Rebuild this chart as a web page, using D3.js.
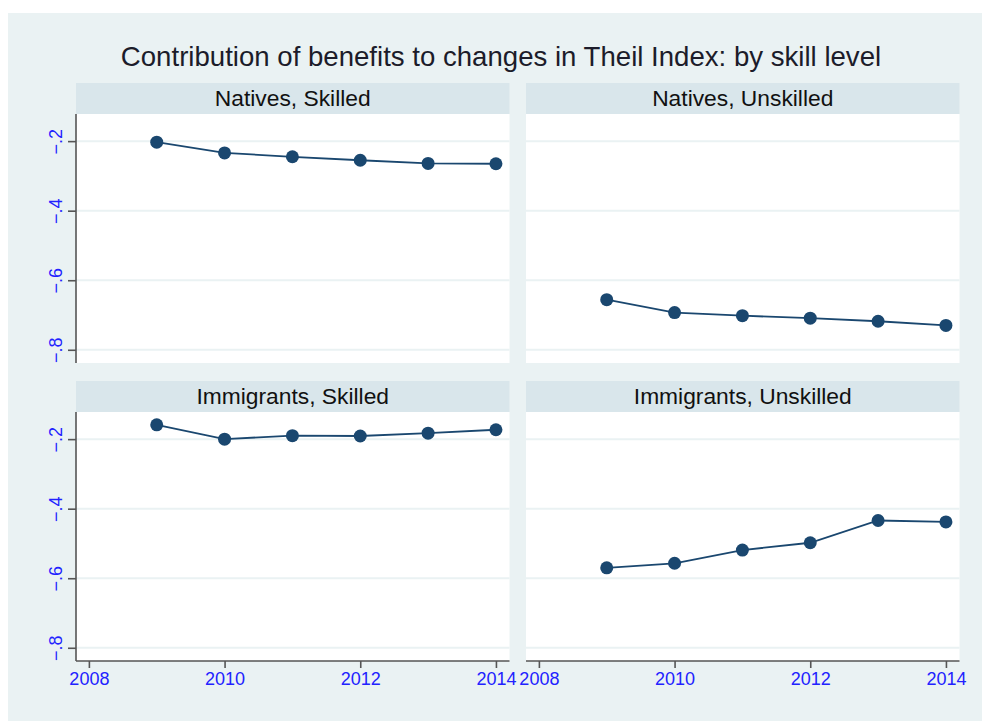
<!DOCTYPE html>
<html>
<head>
<meta charset="utf-8">
<script src="https://cdn.jsdelivr.net/npm/d3@7"></script>
<style>
  html, body { margin: 0; padding: 0; background: #ffffff; }
  svg { display: block; font-family: "Liberation Sans", Arial, sans-serif; }
</style>
</head>
<body>
<svg id="chart" width="982" height="721"></svg>
<script>
// Survey years on the x axis
const years = [2009, 2010, 2011, 2012, 2013, 2014];

// Contribution of benefits to the change in the Theil index, one series per group
const nativesSkilled      = [-0.203, -0.234, -0.245, -0.255, -0.264, -0.265];
const nativesUnskilled    = [-0.656, -0.693, -0.702, -0.709, -0.718, -0.730];
const immigrantsSkilled   = [-0.159, -0.200, -0.190, -0.191, -0.183, -0.173];
const immigrantsUnskilled = [-0.570, -0.557, -0.519, -0.498, -0.434, -0.438];

// Panel titles, in reading order
const panelTitles = ["Natives, Skilled", "Natives, Unskilled", "Immigrants, Skilled", "Immigrants, Unskilled"];
const panelSeries = [nativesSkilled, nativesUnskilled, immigrantsSkilled, immigrantsUnskilled];

// Axis ticks
const xTicks = [2008, 2010, 2012, 2014];
const yTicks = [-0.2, -0.4, -0.6, -0.8];

const chartTitle = "Contribution of benefits to changes in Theil Index: by skill level";

const svg = d3.select("#chart");
const W = 982, H = 721;

const colors = {
  outer: "#EAF2F3",
  strip: "#D9E6EB",
  plot: "#FFFFFF",
  grid: "#EAF2F3",
  axis: "#555555",
  tick: "#2222ff",
  series: "#1a476f"
};

// Outer graph region
svg.append("rect").attr("x", 8).attr("y", 13).attr("width", W - 8).attr("height", H - 13)
  .attr("fill", colors.outer);

svg.append("text")
  .attr("x", 501).attr("y", 66)
  .attr("text-anchor", "middle")
  .style("font-size", "27.6px")
  .attr("fill", "#1c1c2a")
  .text(chartTitle);

// Panel layout: two columns, two rows
const colX = [76, 526];
const rowY = [83, 381];
const plotW = 433.5;
const stripH = 31;
const plotH = 249;

const x = d3.scaleLinear().domain([2007.81, 2014.2]).range([0, plotW]);
const y = d3.scaleLinear().domain([-0.838, -0.122]).range([plotH, 0]);

const fmt = v => d3.format(".1f")(v).replace("0.", ".");

panelSeries.forEach((vals, i) => {
  const col = i % 2, row = Math.floor(i / 2);
  const g = svg.append("g").attr("transform", `translate(${colX[col]},${rowY[row]})`);

  // Subtitle strip
  g.append("rect").attr("x", 0).attr("y", 0).attr("width", plotW).attr("height", stripH)
    .attr("fill", colors.strip);
  g.append("text")
    .attr("x", plotW / 2).attr("y", 23)
    .attr("text-anchor", "middle")
    .style("font-size", "22.8px")
    .attr("fill", "#111111")
    .text(panelTitles[i]);

  const p = g.append("g").attr("transform", `translate(0,${stripH})`);
  p.append("rect").attr("width", plotW).attr("height", plotH).attr("fill", colors.plot);

  // Horizontal grid
  p.append("g").selectAll("line").data(yTicks).join("line")
    .attr("x1", 0).attr("x2", plotW)
    .attr("y1", d => y(d)).attr("y2", d => y(d))
    .attr("stroke", colors.grid).attr("stroke-width", 2);

  // Y axis on the left column only
  if (col === 0) {
    const ya = p.append("g")
      .call(d3.axisLeft(y).tickValues(yTicks).tickFormat(fmt).tickSize(8).tickPadding(6));
    ya.select(".domain").attr("stroke", colors.axis).attr("stroke-width", 1.6)
      .attr("d", `M0,0V${plotH}`);
    ya.selectAll(".tick line").attr("stroke", colors.axis).attr("stroke-width", 1.6);
    ya.selectAll(".tick text")
      .attr("fill", colors.tick)
      .style("font-size", "18px")
      .style("font-family", "'Liberation Sans', Arial, sans-serif")
      .attr("transform", "rotate(-90)")
      .attr("x", 0).attr("y", -20)
      .attr("dy", "0.35em")
      .attr("text-anchor", "middle");
  }

  // X axis on the bottom row only
  if (row === 1) {
    const xa = p.append("g").attr("transform", `translate(0,${plotH})`)
      .call(d3.axisBottom(x).tickValues(xTicks).tickFormat(d3.format("d")).tickSize(7).tickPadding(4));
    xa.select(".domain").attr("stroke", colors.axis).attr("stroke-width", 1.6)
      .attr("d", `M0,0H${plotW}`);
    xa.selectAll(".tick line").attr("stroke", colors.axis).attr("stroke-width", 1.6);
    xa.selectAll(".tick text")
      .attr("fill", colors.tick)
      .style("font-size", "18px")
      .style("font-family", "'Liberation Sans', Arial, sans-serif");
  }

  const pts = years.map((yr, k) => ({ yr, v: vals[k] }));
  p.append("path").datum(pts)
    .attr("fill", "none")
    .attr("stroke", colors.series)
    .attr("stroke-width", 1.8)
    .attr("d", d3.line().x(d => x(d.yr)).y(d => y(d.v)));
  p.append("g").selectAll("circle").data(pts).join("circle")
    .attr("cx", d => x(d.yr)).attr("cy", d => y(d.v))
    .attr("r", 6.5).attr("fill", colors.series);
});
</script>
</body>
</html>
